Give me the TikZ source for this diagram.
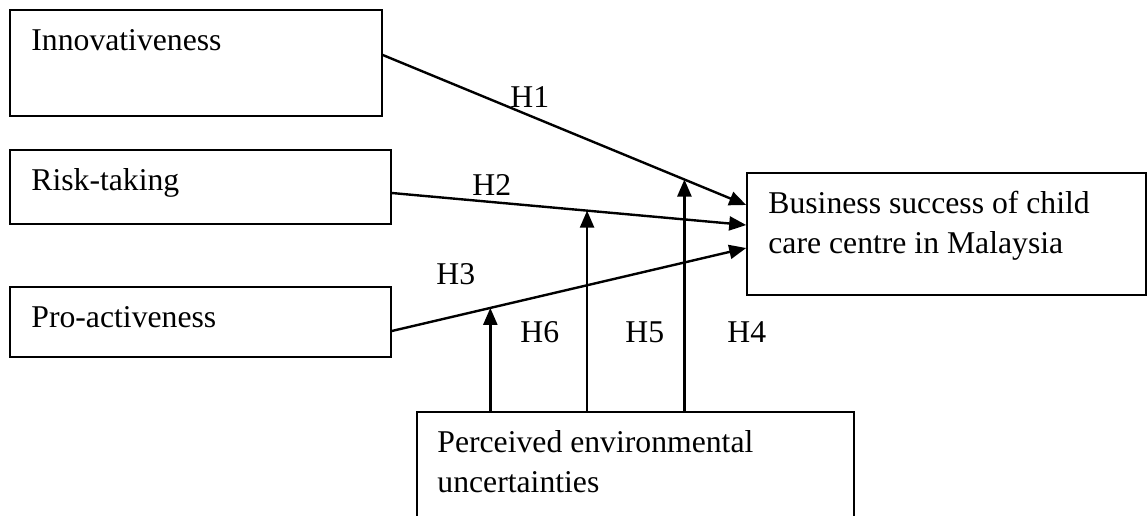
\documentclass[tikz,border=0pt]{standalone}
\usepackage{fontspec}
\setmainfont{Liberation Serif}
\usetikzlibrary{arrows.meta,calc}
\newcommand{\lblfont}{\fontsize{15.85}{20}\selectfont}

\begin{document}
\begin{tikzpicture}[x=.5pt,y=-.5pt,
    box/.style 2 args={draw, line width=.8pt, minimum width=#1*.5pt,
      minimum height=#2*.5pt, inner sep=0pt},
    lbl/.style={anchor=base west, inner sep=0pt, font=\lblfont, align=left},
    arr/.style={line width=1.2pt, -{Triangle[length=8.5pt,width=7pt]}}]

      \clip (0,0) rectangle (1148,515);

          %% the three dimensions on the left
      \node[box={372}{106}] (inn) at (196,63) {};
      \node[box={381}{74}] (risk) at (200.5,187) {};
      \node[box={381}{70}] (pro) at (200.5,322) {};
      \node[lbl] (tinn) at (31,50) {Innovativeness};
      \node[lbl] (trisk) at (31,190) {Risk-taking};
      \node[lbl] (tpro) at (31,327) {Pro-activeness};

          %% outcome and moderator (base = last line)
      \node[box={399}{122}] (bus) at (946.5,234) {};
      \node[lbl] (tbus) at (768,253) {Business success of child\\care centre in Malaysia};
      \node[box={437}{188}] (pe) at (635.5,506) {};
      \node[lbl] (tpe) at (437,492) {Perceived environmental\\uncertainties};

      \coordinate (s1) at ([yshift=4pt]inn.east);
      \coordinate (s2) at ([yshift=-3pt]risk.east);
      \coordinate (s3) at ([yshift=-4.5pt]pro.east);
      \coordinate (e1) at ([yshift=14.5pt]bus.west);
      \coordinate (e2) at ([yshift=4.5pt]bus.west);
      \coordinate (e3) at ([yshift=-7pt]bus.west);
      \draw[arr] (s1) -- (e1);
      \draw[arr] (s2) -- (e2);
      \draw[arr] (s3) -- (e3);

          %% moderating paths end on the direct paths
      \coordinate (m4) at ($(s1)!.83!(e1)$);
      \coordinate (m5) at ($(s2)!.551!(e2)$);
      \coordinate (m6) at ($(s3)!.278!(e3)$);
      \foreach \k in {4,5,6}
      { \draw[arr] (m\k |- pe.north) -- (m\k);}

      \node[lbl] (h1) at (510,107) {H1};
      \node[lbl] (h2) at (472,195) {H2};
      \node[lbl] (h3) at (436,284) {H3};
      \node[lbl] (h6) at (520,342) {H6};
      \node[lbl] (h5) at (625,342) {H5};
      \node[lbl] (h4) at (727,342) {H4};

        \end{tikzpicture}
\end{document}
